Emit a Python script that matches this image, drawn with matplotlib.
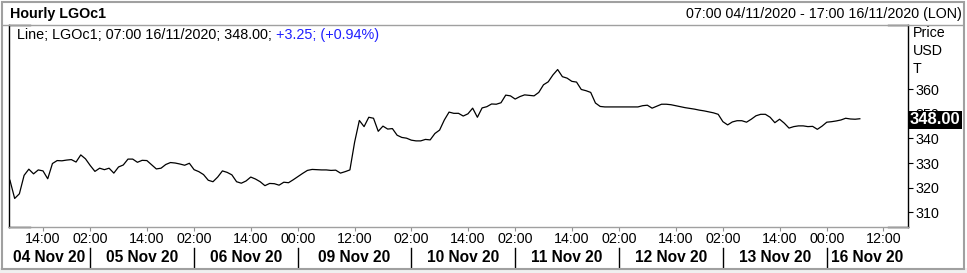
import pandas as pd
import numpy as np
import matplotlib.pyplot as plt
import matplotlib.transforms as mtransforms
from matplotlib.patches import Rectangle
from matplotlib.lines import Line2D

plt.rcParams['font.family'] = ['Liberation Sans', 'DejaVu Sans']

# hourly closes of LGOc1 per trading day (London time)
days = ['2020-11-04', '2020-11-05', '2020-11-06', '2020-11-09', '2020-11-10',
        '2020-11-11', '2020-11-12', '2020-11-13', '2020-11-16']
day_labels = ['04 Nov 20', '05 Nov 20', '06 Nov 20', '09 Nov 20', '10 Nov 20',
              '11 Nov 20', '12 Nov 20', '13 Nov 20', '16 Nov 20']

nov04 = [323.0, 315.6, 317.5, 325.0, 327.5, 325.6, 327.2, 326.8, 323.6, 329.8,
         331.0, 330.9, 331.2, 331.4, 330.4, 333.3, 331.7]
nov05 = [329.0, 326.6, 327.9, 327.3, 327.9, 325.9, 328.4, 329.2, 331.6, 331.6,
         330.3, 331.1, 331.0, 329.3, 327.6, 327.9, 329.4, 330.2, 330.0, 329.6,
         329.1, 329.9]
nov06 = [327.3, 326.5, 325.3, 323.0, 322.4, 324.3, 326.8, 326.2, 325.2, 322.4,
         321.8, 322.7, 324.3, 323.5, 322.4, 320.8, 321.7, 321.6, 321.0, 322.2,
         322.0, 323.2]
nov09 = [324.5, 325.8, 327.0, 327.4, 327.3, 327.2, 327.2, 327.0, 327.1, 325.9,
         326.5, 327.2, 338.5, 347.3, 344.8, 348.6, 348.2, 342.9, 345.0, 343.8,
         344.0, 341.3, 340.4, 340.1]
nov10 = [339.3, 339.0, 339.0, 339.6, 339.4, 342.0, 343.4, 347.5, 350.7, 350.2,
         350.2, 349.1, 350.0, 352.3, 348.6, 352.4, 352.9, 354.0, 353.9, 354.5,
         357.6, 357.3]
nov11 = [356.0, 357.0, 357.7, 357.5, 357.3, 358.7, 361.8, 363.0, 365.8, 368.0,
         365.1, 364.5, 363.2, 362.9, 359.9, 359.4, 358.7, 354.4, 353.0, 352.8,
         352.8, 352.8]
nov12 = [352.8, 352.8, 352.8, 352.8, 352.8, 353.3, 353.5, 352.3, 353.1, 353.9,
         353.9, 353.7, 353.3, 352.9, 352.5, 352.2, 351.9, 351.5, 351.2, 350.8,
         350.4, 349.8]
nov13 = [346.8, 345.5, 346.7, 347.2, 347.2, 346.6, 347.8, 349.2, 349.8, 349.8,
         348.6, 346.4, 347.8, 346.2, 344.2, 344.8, 345.1, 345.1, 344.8, 344.9,
         343.7, 345.0]
nov16 = [346.6, 346.8, 347.1, 347.5, 348.2, 347.9, 347.8, 348.0]
prices = [nov04, nov05, nov06, nov09, nov10, nov11, nov12, nov13, nov16]

y_ticks = [310, 320, 330, 340, 350, 360]
x_tick_times = ['2020-11-04 14:00', '2020-11-05 02:00', '2020-11-05 14:00',
                '2020-11-06 02:00', '2020-11-06 14:00', '2020-11-09 00:00',
                '2020-11-09 12:00', '2020-11-10 02:00', '2020-11-10 14:00',
                '2020-11-11 02:00', '2020-11-11 14:00', '2020-11-12 02:00',
                '2020-11-12 14:00', '2020-11-13 02:00', '2020-11-13 14:00',
                '2020-11-16 00:00', '2020-11-16 12:00']

# trading hours: bars 02:00-23:00, Mondays from 00:00; window 07:00 04/11 - 17:00 16/11
def session(day, i):
    d = pd.Timestamp(day)
    if i == 0:
        hours = range(7, 24)
    elif i == len(days) - 1:
        hours = range(0, 18)
    elif d.dayofweek == 0:
        hours = range(0, 24)
    else:
        hours = range(2, 24)
    return [d + pd.Timedelta(hours=h) for h in hours]

times = []
day_start = []
for i, day in enumerate(days):
    s = session(day, i)
    day_start.append(len(times))
    times += s
pos = {t: k for k, t in enumerate(times)}

values = [v for day in prices for v in day]
x = np.arange(len(values))

W, H = 967, 273
fig = plt.figure(figsize=(W / 100, H / 100), dpi=100)
ax = fig.add_axes([9 / W, 46 / H, 899 / W, 202 / H])

ax.plot(x, values, color='black', lw=0.9)
ax.set_xlim(-0.2, 190.2)
ax.set_ylim(304, 386.1)

# right hand price axis
ax.yaxis.tick_right()
ax.set_yticks(y_ticks)
ax.set_yticklabels([str(v) for v in y_ticks], fontsize=10.3)
ax.tick_params(axis='y', length=3.6, width=0.8, color='black', pad=2)

tick_x = [pos[pd.Timestamp(t)] for t in x_tick_times]
ax.set_xticks(tick_x)
ax.set_xticklabels([t[-5:] for t in x_tick_times], fontsize=10.3)
ax.tick_params(axis='x', length=3, width=0.8, color='#909090', pad=0.5)

for side in ['left', 'right']:
    ax.spines[side].set_color('black')
    ax.spines[side].set_linewidth(1)
ax.spines['top'].set_visible(False)
ax.spines['bottom'].set_color('#a0a0a0')
ax.spines['bottom'].set_linewidth(1)

# black corner marks
for yy in [0, 1]:
    ax.plot([0, 21 / 899], [yy, yy], transform=ax.transAxes, color='black', lw=1, clip_on=False)
    ax.plot([1 - 20 / 899, 1], [yy, yy], transform=ax.transAxes, color='black', lw=1, clip_on=False)

# header
fig.add_artist(Line2D([2 / W, 962 / W], [1 - 25 / H, 1 - 25 / H], color='#a0a0a0', lw=1))
fig.text(10 / W, 1 - 14 / H, 'Hourly LGOc1', fontsize=10.3, fontweight='bold', va='center')
fig.text(962 / W, 1 - 14 / H, '07:00 04/11/2020 - 17:00 16/11/2020 (LON)',
         fontsize=10.3, ha='right', va='center')

# legend line
t1 = fig.text(17 / W, 1 - 35 / H, 'Line; LGOc1; 07:00 16/11/2020; 348.00; ',
              fontsize=10.4, va='center')
ax.annotate('+3.25; (+0.94%)', xy=(1, 0.5), xycoords=t1, va='center',
            fontsize=10.4, color='#2020ff')

for lab, yy in zip(['Price', 'USD', 'T'], [33, 51, 69]):
    fig.text(913 / W, 1 - yy / H, lab, fontsize=10.3, va='center')

# last price marker
fig.text(910 / W, 1 - 120 / H, '348.00', fontsize=12, fontweight='bold', color='white',
         va='center', bbox=dict(boxstyle='square,pad=0.1', fc='black', ec='none'))

# date band under the axis
blend = mtransforms.blended_transform_factory(ax.transData, fig.transFigure)
edges = day_start[1:] + [190.2]
starts = [-0.2] + day_start[1:]
for a, b, lab in zip(starts, edges, day_labels):
    ax.text((a + b) / 2, 1 - 257 / H, lab, transform=blend, ha='center', va='center',
            fontsize=11.2, fontweight='bold')
for d in day_start[1:]:
    ax.add_artist(Line2D([d, d], [1 - 248 / H, 1 - 267 / H], transform=blend,
                         color='black', lw=1, clip_on=False))

# outer frame
fig.add_artist(Rectangle((0, 0), 1, 5 / H, transform=fig.transFigure, fc='#f0f0f0', ec='none'))
fig.add_artist(Rectangle((1.5 / W, 4 / H), 962 / W, 267.5 / H, transform=fig.transFigure,
                         fill=False, ec='#a0a0a0', lw=1.5))

fig.savefig('out.png', dpi=100)
